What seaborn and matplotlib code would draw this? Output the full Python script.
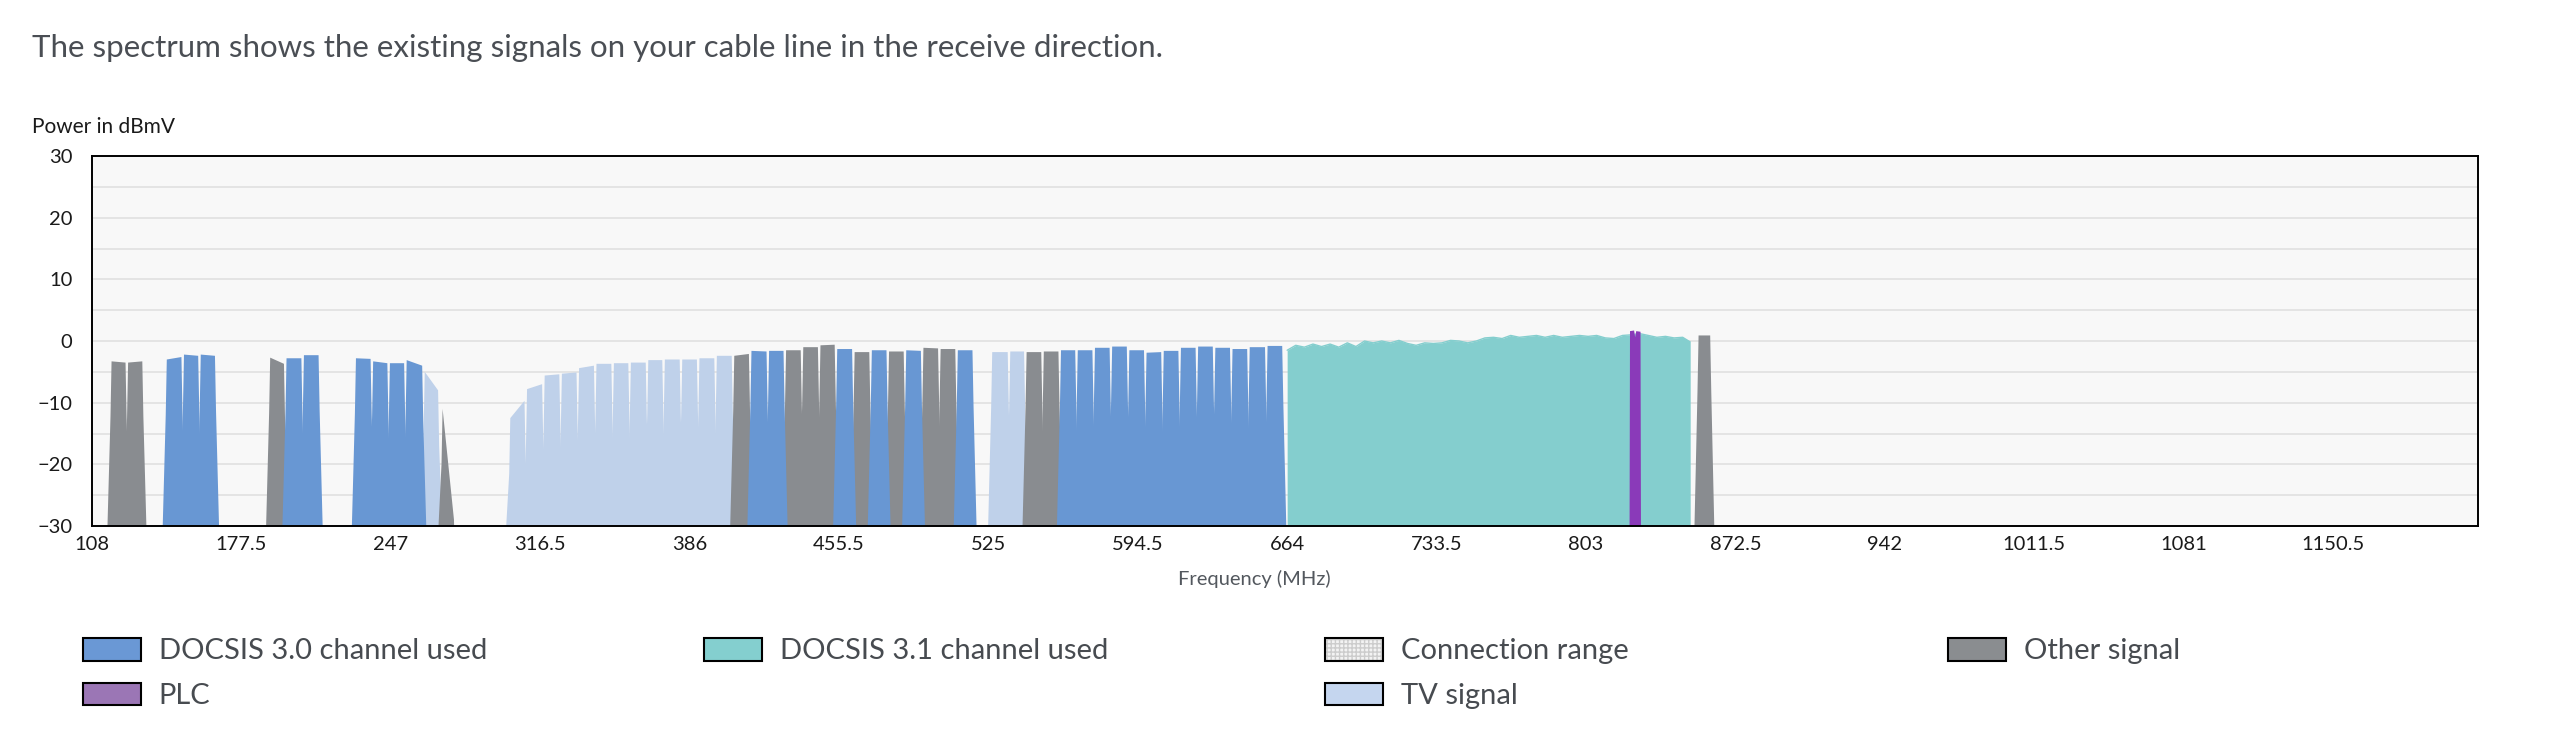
import numpy as np
import pandas as pd
import seaborn as sns
import matplotlib.pyplot as plt
from matplotlib.patches import Patch
from matplotlib.ticker import MultipleLocator

# channels: (start MHz, stop MHz, level at start, level at stop) in dBmV
docsis30 = [
    (142.2, 150.2, -3.0, -2.6), (150.2, 158.0, -2.2, -2.4), (158.0, 165.8, -2.2, -2.4),
    (197.9, 206.0, -2.8, -2.8), (206.0, 214.0, -2.3, -2.3),
    (230.2, 238.2, -2.8, -2.9), (238.2, 246.0, -3.3, -3.6), (246.0, 253.8, -3.6, -3.6),
    (253.8, 262.2, -3.1, -4.0),
    (414.2, 422.4, -1.6, -1.7), (422.4, 430.3, -1.6, -1.6), (454.1, 462.2, -1.3, -1.3),
    (470.2, 478.2, -1.5, -1.5), (486.2, 494.2, -1.5, -1.6), (510.2, 518.2, -1.5, -1.5),
    (558.2, 566.0, -1.5, -1.5), (566.0, 574.0, -1.5, -1.5), (574.0, 582.0, -1.1, -1.1),
    (582.0, 590.0, -0.9, -0.9), (590.0, 598.0, -1.5, -1.5), (598.0, 606.0, -1.9, -1.8),
    (606.0, 614.0, -1.6, -1.6), (614.0, 622.0, -1.1, -1.1), (622.0, 630.0, -0.9, -0.9),
    (630.0, 638.0, -1.1, -1.1), (638.0, 646.0, -1.3, -1.3), (646.0, 654.3, -1.0, -1.0),
    (654.3, 662.3, -0.8, -0.8),
]
other = [
    (116.5, 124.2, -3.3, -3.5), (124.2, 132.0, -3.5, -3.3), (190.3, 197.9, -2.7, -3.7),
    (270.5, 277.0, -11.0, -29.0),
    (406.2, 414.2, -2.4, -2.1), (430.3, 438.3, -1.5, -1.5), (438.3, 446.3, -1.0, -1.0),
    (446.3, 454.1, -0.7, -0.6), (462.2, 470.2, -1.8, -1.8), (478.2, 486.2, -1.7, -1.7),
    (494.2, 502.2, -1.1, -1.2), (502.2, 510.2, -1.3, -1.3), (542.2, 550.2, -1.8, -1.8),
    (550.2, 558.2, -1.7, -1.7), (854.8, 861.4, 0.9, 0.9),
]
tv = [
    (262.2, 269.6, -5.0, -8.0),
    (302.0, 309.8, -12.5, -9.7), (309.8, 318.0, -7.8, -7.0), (318.0, 326.0, -5.6, -5.4),
    (326.0, 334.0, -5.3, -5.1), (334.0, 342.1, -4.4, -4.0), (342.1, 350.2, -3.7, -3.7),
    (350.2, 358.1, -3.6, -3.6), (358.1, 366.2, -3.5, -3.5), (366.2, 373.9, -3.1, -3.1),
    (373.9, 382.0, -3.0, -3.0), (382.0, 390.0, -3.0, -3.0), (390.0, 398.1, -2.8, -2.8),
    (398.1, 406.2, -2.4, -2.4),
    (526.2, 534.6, -1.8, -1.8), (534.6, 542.2, -1.7, -1.7),
]
ofdm_freq = [664, 668, 672, 676, 680, 684, 688, 692, 696, 700, 704, 708, 712, 716, 720, 724,
             728, 732, 736, 740, 744, 748, 752, 756, 760, 764, 768, 772, 776, 780, 784, 788,
             792, 796, 800, 804, 808, 812, 816, 820, 824, 828, 832, 836, 840, 844, 848, 851.5]
ofdm_level = [-1.5, -0.7, -1.0, -0.5, -0.9, -0.5, -1.0, -0.3, -0.9, 0.0, -0.3, 0.0, -0.3, 0.1, -0.4, -0.7,
              -0.3, -0.4, -0.3, 0.1, 0.0, -0.3, 0.0, 0.5, 0.6, 0.4, 0.9, 0.6, 0.75, 0.9, 0.6, 0.9,
              0.6, 0.75, 0.9, 0.75, 0.9, 0.5, 0.4, 0.9, 1.0, 1.2, 0.9, 0.6, 0.75, 0.5, 0.6, -0.15]
plc_freq = [823.3, 823.5, 825.4, 825.9, 826.4, 828.4, 828.6]
plc_level = [-30, 1.6, 1.7, 0.6, 1.6, 1.5, -30]

x_ticks = [108, 177.5, 247, 316.5, 386, 455.5, 525, 594.5, 664, 733.5, 803, 872.5,
           942, 1011.5, 1081, 1150.5]
x_labels = ['108', '177.5', '247', '316.5', '386', '455.5', '525', '594.5', '664', '733.5',
            '803', '872.5', '942', '1011.5', '1081', '1150.5']
y_ticks = [-30, -20, -10, 0, 10, 20, 30]

legend_cols = [
    ['DOCSIS 3.0 channel used', 'PLC'],
    ['DOCSIS 3.1 channel used'],
    ['Connection range', 'TV signal'],
    ['Other signal'],
]

BLUE = '#6897d3'
TEAL = '#84cece'
TV = '#bfd1ea'
GRAY = '#898c90'
PLC = '#8a3ab9'

sns.set_style('white')
plt.rcParams['font.family'] = ['Lato', 'DejaVu Sans']


def channel_outline(start, stop, lvl_a, lvl_b):
    # flat top with steep roll-off, neighbouring channels overlap a little at the base
    xs = [start - 1.3, start + 0.1, start + 0.6, stop - 0.6, stop - 0.1, stop + 1.3]
    ys = [-30, lvl_a - 9, lvl_a, lvl_b, lvl_b - 9, -30]
    return xs, ys


fig = plt.figure(figsize=(25.5, 7.34), dpi=100)
ax = fig.add_axes([92 / 2550, 1 - 526 / 734, (2478 - 92) / 2550, (526 - 156) / 734])
ax.set_facecolor('#f8f8f8')

for group, color in [(tv, TV), (other, GRAY), (docsis30, BLUE)]:
    for ch in group:
        xs, ys = channel_outline(*ch)
        ax.fill(xs, ys, color=color, lw=0, zorder=2)

ofdm = pd.DataFrame({'freq': ofdm_freq, 'level': ofdm_level})
ax.fill_between(ofdm['freq'], ofdm['level'], -30, color=TEAL, lw=0, zorder=3)
sns.lineplot(data=ofdm, x='freq', y='level', ax=ax, color=TEAL, lw=1, zorder=3)
ax.fill(plc_freq, plc_level, color=PLC, lw=0, zorder=4)

ax.set_xlim(108, 1218)
ax.set_ylim(-30, 30)
ax.set_xticks(x_ticks)
ax.set_xticklabels(x_labels)
ax.set_yticks(y_ticks)
ax.yaxis.set_minor_locator(MultipleLocator(5))
ax.grid(axis='y', which='both', color='#e2e2e2', lw=1.3, zorder=1)
ax.set_axisbelow(True)
ax.tick_params(axis='x', direction='out', length=6, width=1.2, color='black',
               labelsize=14.5, labelcolor='#1a1a1a', pad=1)
ax.tick_params(axis='y', which='both', direction='out', length=6, width=1.3, color='#e0e0e0',
               labelsize=14.5, labelcolor='#1a1a1a', pad=8)
for s in ax.spines.values():
    s.set_color('black')
    s.set_linewidth(1.4)
    s.set_zorder(5)
ax.set_xlabel('')
ax.set_ylabel('')

fig.text(32 / 2550, 1 - 48 / 734, 'The spectrum shows the existing signals on your cable line in the receive direction.',
         fontsize=22.5, color='#4a4e54', va='center', ha='left')
fig.text(32 / 2550, 1 - 127 / 734, 'Power in dBmV', fontsize=15, color='#1a1a1a', va='center', ha='left')
fig.text(1254 / 2550, 1 - 579 / 734, 'Frequency (MHz)', fontsize=14.5, color='#53585e', va='center', ha='center')

swatch = {
    'DOCSIS 3.0 channel used': Patch(facecolor='#6a98d5', edgecolor='black', lw=1.5),
    'PLC': Patch(facecolor='#9b76b5', edgecolor='black', lw=1.5),
    'DOCSIS 3.1 channel used': Patch(facecolor='#84cfcf', edgecolor='black', lw=1.5),
    'Connection range': (Patch(facecolor='#f3f3f3', edgecolor='#cccccc', hatch='++++', lw=0),
                         Patch(facecolor='none', edgecolor='black', lw=1.5)),
    'TV signal': Patch(facecolor='#c5d6ef', edgecolor='black', lw=1.5),
    'Other signal': Patch(facecolor='#8a8d90', edgecolor='black', lw=1.5),
}
col_x = [83, 704, 1325, 1948]
for labels, x in zip(legend_cols, col_x):
    fig.legend([swatch[l] for l in labels], labels, loc='upper left',
               bbox_to_anchor=(x / 2550, 1 - 638 / 734), frameon=False, fontsize=21,
               handlelength=2.0, handleheight=0.82, handletextpad=0.6, labelspacing=0.62,
               borderpad=0, borderaxespad=0, labelcolor='#474b50')

fig.savefig('out.png', dpi=100)
